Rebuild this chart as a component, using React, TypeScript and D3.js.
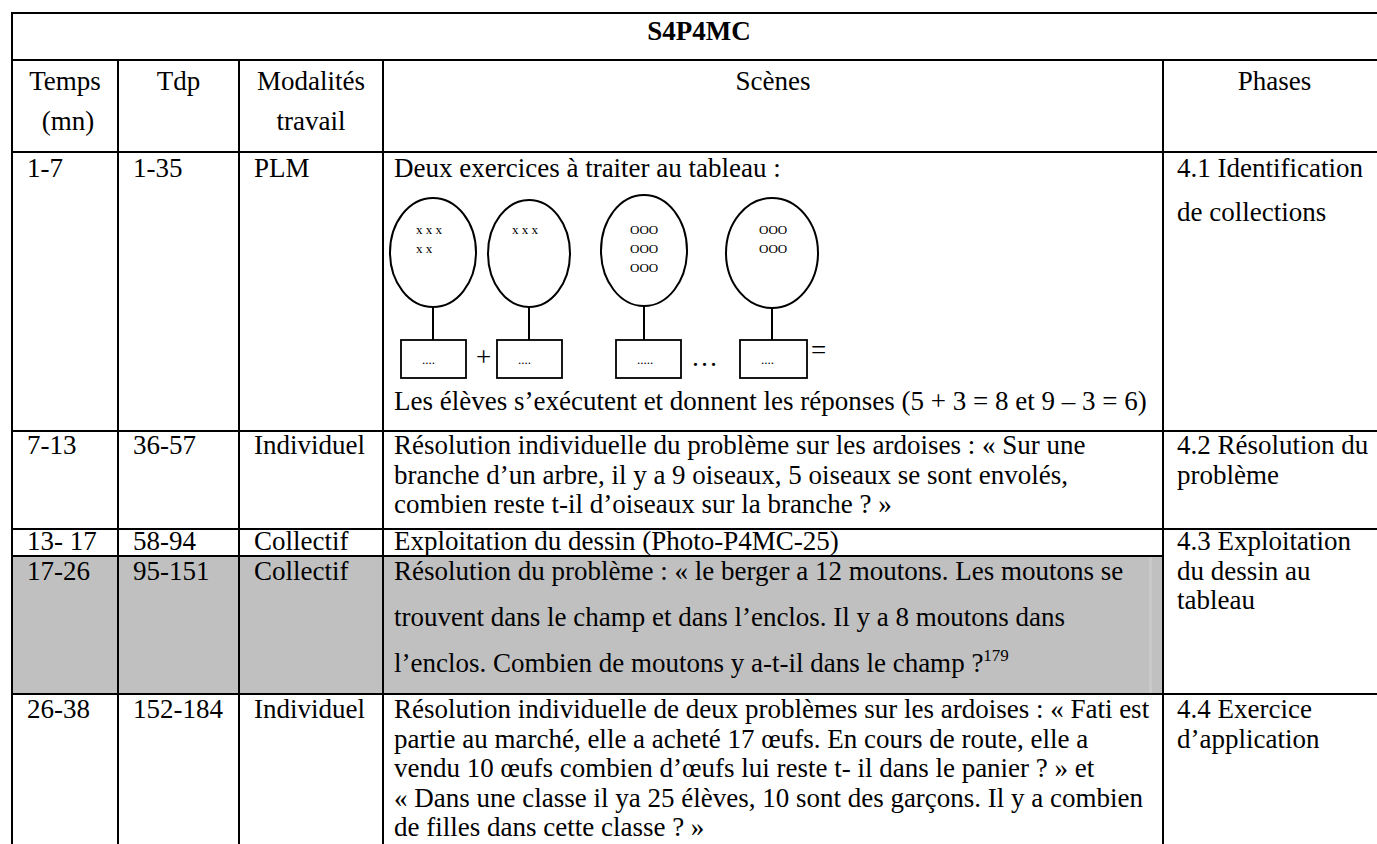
import * as d3 from "d3";

// ---- table content ----
const title = "S4P4MC";
const headers = [["Temps", "(mn)"], ["Tdp"], ["Modalités", "travail"], ["Scènes"], ["Phases"]];
const temps = ["1-7", "7-13", "13- 17", "17-26", "26-38"];
const tdp = ["1-35", "36-57", "58-94", "95-151", "152-184"];
const modalites = ["PLM", "Individuel", "Collectif", "Collectif", "Individuel"];
const scenes = [
  ["Deux exercices à traiter au tableau :", "Les élèves s’exécutent et donnent les réponses (5 + 3 = 8 et 9 – 3 = 6)"],
  [
    "Résolution individuelle du problème sur les ardoises : « Sur une",
    "branche d’un arbre, il y a 9 oiseaux, 5 oiseaux se sont envolés,",
    "combien reste t-il d’oiseaux sur la branche ? »",
  ],
  ["Exploitation du dessin (Photo-P4MC-25)"],
  [
    "Résolution du problème : « le berger a 12 moutons. Les moutons se",
    "trouvent dans le champ et dans l’enclos. Il y a 8 moutons dans",
    "l’enclos. Combien de moutons y a-t-il dans le champ ?",
  ],
  [
    "Résolution individuelle de deux problèmes sur les ardoises : « Fati est",
    "partie au marché, elle a acheté 17 œufs. En cours de route, elle a",
    "vendu 10 œufs combien d’œufs lui reste t- il dans le panier ? » et",
    "« Dans une classe il ya 25 élèves, 10 sont des garçons. Il y a combien",
    "de filles dans cette classe ? »",
  ],
];
const footnote = "179";
const phases = [
  ["4.1 Identification", "de collections"],
  ["4.2 Résolution du", "problème"],
  ["4.3 Exploitation", "du dessin au", "tableau"],
  ["4.4 Exercice", "d’application"],
];
const phaseRows = [0, 1, 2, 4];
const ellipseMarks = [["x x x", "x x"], ["x x x"], ["OOO", "OOO", "OOO"], ["OOO", "OOO"]];
const boxDots = ["....", "....", ".....", "...."];
const operators = ["+", "", "…", "="];

// ---- layout ----
const W = 1377;
const H = 844;
const colEdges = [12, 118, 239, 383, 1163, 1386];
const rowEdges = [13, 60, 152, 431, 529, 556, 694, 870];
const firstBase = [177, 454, 550, 580, 718];
const spacing = [43.5, 29.5, 29.5, 46, 29.5];
const FONT = "'Liberation Serif', 'Times New Roman', serif";
const FS = 27;

// diagram slots inside the first row
const ell = [
  { cx: 433, rx: 43, top: 198, bottom: 307, bx: 401, bw: 65 },
  { cx: 529, rx: 41, top: 200, bottom: 307, bx: 497, bw: 65 },
  { cx: 644, rx: 43, top: 195, bottom: 306, bx: 616, bw: 65 },
  { cx: 772, rx: 46, top: 198, bottom: 308, bx: 740, bw: 67 },
];
const boxTop = 340;
const boxBottom = 378;

export default function App() {
  const pad = d3.scaleOrdinal<number, number>().domain([0, 1, 2, 3, 4]).range([15, 15, 15, 11, 14]);
  const colX = (c: number) => colEdges[c] + pad(c);
  const colMid = (c: number) => (colEdges[c] + colEdges[c + 1]) / 2;
  const rowLine = (r: number) =>
    d3.scaleLinear().domain([0, 1]).range([firstBase[r], firstBase[r] + spacing[r]]);
  const headerY = d3.scaleLinear().domain([0, 1]).range([90, 130]);

  const hLines = [
    { y: rowEdges[0], x1: colEdges[0], x2: colEdges[5] },
    { y: rowEdges[1], x1: colEdges[0], x2: colEdges[5] },
    { y: rowEdges[2], x1: colEdges[0], x2: colEdges[5] },
    { y: rowEdges[3], x1: colEdges[0], x2: colEdges[5] },
    { y: rowEdges[4], x1: colEdges[0], x2: colEdges[5] },
    { y: rowEdges[5], x1: colEdges[0], x2: colEdges[4] },
    { y: rowEdges[6], x1: colEdges[0], x2: colEdges[5] },
  ];

  return (
    <svg
      width={W}
      height={H}
      style={{ position: "absolute", left: 0, top: 0, background: "#fff" }}
      fontFamily={FONT}
      fontSize={FS}
    >
      <rect x={0} y={0} width={W} height={H} fill="#fff" />
      {/* shaded row */}
      <rect x={colEdges[0]} y={rowEdges[5]} width={colEdges[4] - colEdges[0]} height={rowEdges[6] - rowEdges[5]} fill="#c0c0c0" />
      <rect x={colEdges[4] - 14} y={rowEdges[5]} width={3} height={rowEdges[6] - rowEdges[5]} fill="#c9c9c9" />

      {/* title */}
      <text x={(colEdges[0] + colEdges[5]) / 2} y={rowEdges[0] + 27} textAnchor="middle" fontWeight="bold">
        {title}
      </text>

      {/* headers */}
      {headers.map((lines, c) =>
        lines.map((t, i) => (
          <text key={`h${c}-${i}`} x={c === 0 && i === 1 ? colMid(c) + 3 : colMid(c)} y={headerY(i)} textAnchor="middle">
            {t}
          </text>
        ))
      )}

      {/* first three columns */}
      {[temps, tdp, modalites].map((col, c) =>
        col.map((t, r) => (
          <text key={`c${c}-${r}`} x={colX(c)} y={rowLine(r)(0)}>
            {t}
          </text>
        ))
      )}

      {/* scenes */}
      <text x={colX(3)} y={rowLine(0)(0)}>{scenes[0][0]}</text>
      <text x={colX(3)} y={rowEdges[3] - 21}>{scenes[0][1]}</text>
      {scenes.slice(1).map((lines, k) => {
        const r = k + 1;
        const y = rowLine(r);
        return lines.map((t, i) => (
          <text key={`s${r}-${i}`} x={colX(3)} y={y(i)}>
            {t}
            {r === 3 && i === lines.length - 1 ? (
              <tspan fontSize={17} dy={-11}>{footnote}</tspan>
            ) : null}
          </text>
        ));
      })}

      {/* diagram */}
      <g stroke="#000" strokeWidth={2} fill="none">
        {ell.map((e, i) => (
          <g key={`e${i}`}>
            <ellipse cx={e.cx} cy={(e.top + e.bottom) / 2} rx={e.rx} ry={(e.bottom - e.top) / 2} />
            <line x1={e.cx} x2={e.cx} y1={e.bottom} y2={boxTop} />
            <rect x={e.bx} y={boxTop} width={e.bw} height={boxBottom - boxTop} strokeWidth={1.8} />
          </g>
        ))}
      </g>
      {ell.map((e, i) =>
        ellipseMarks[i].map((t, j) => (
          <text key={`m${i}-${j}`} x={e.cx - 17 + (i === 3 ? 1 : 0) + (i < 2 ? 0 : 3)} y={234 + j * 19} fontSize={13}>
            {t}
          </text>
        ))
      )}
      {ell.map((e, i) => (
        <text key={`d${i}`} x={e.bx + 21} y={364} fontSize={13}>
          {boxDots[i]}
        </text>
      ))}
      {ell.map((e, i) =>
        operators[i] ? (
          <text
            key={`o${i}`}
            x={e.bx + e.bw + (operators[i] === "=" ? 4 : 10)}
            y={operators[i] === "=" ? 359 : 366}
          >
            {operators[i]}
          </text>
        ) : null
      )}

      {/* phases */}
      {phases.map((lines, k) => {
        const y = rowLine(phaseRows[k]);
        return lines.map((t, i) => (
          <text key={`p${k}-${i}`} x={colX(4)} y={y(i)}>
            {t}
          </text>
        ));
      })}

      {/* grid */}
      <g stroke="#000" strokeWidth={2}>
        {hLines.map((l, i) => (
          <line key={`hl${i}`} x1={l.x1 - 1} x2={l.x2 + 1} y1={l.y} y2={l.y} />
        ))}
        <line x1={colEdges[0]} x2={colEdges[0]} y1={rowEdges[0]} y2={H} />
        {colEdges.slice(1).map((x, i) => (
          <line key={`vl${i}`} x1={x} x2={x} y1={i === 4 ? rowEdges[0] : rowEdges[1]} y2={H} />
        ))}
      </g>
    </svg>
  );
}
